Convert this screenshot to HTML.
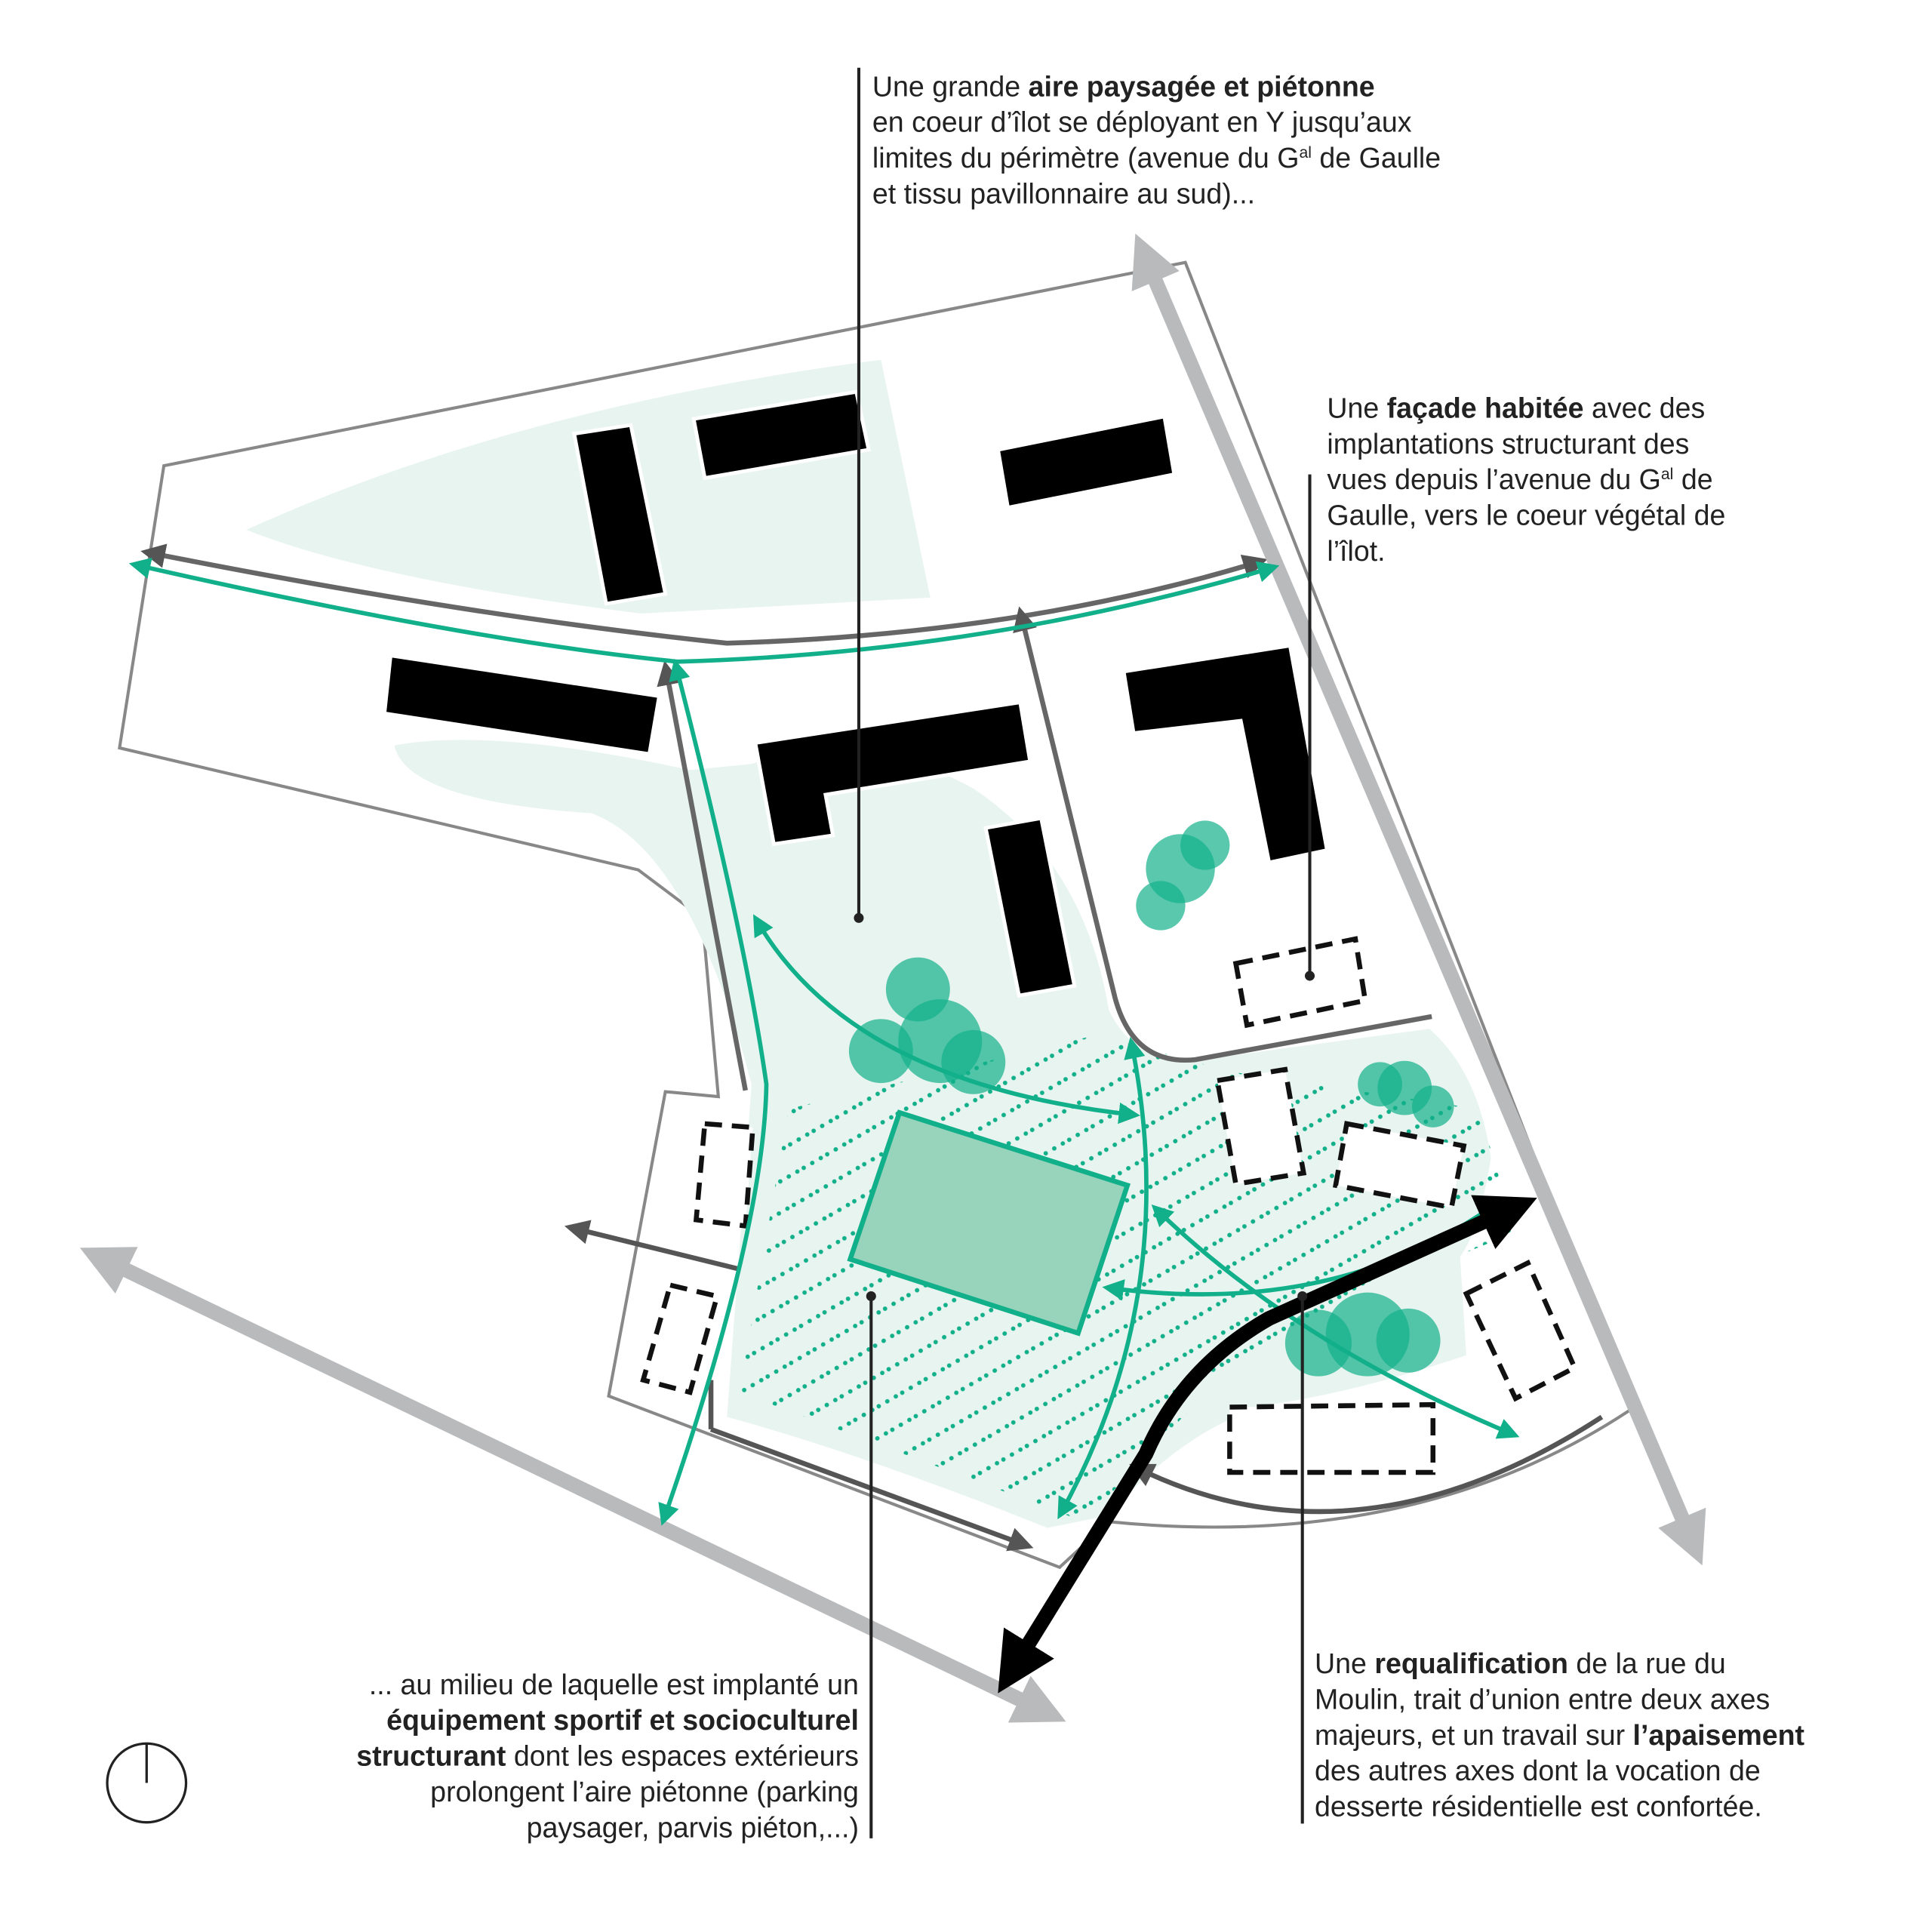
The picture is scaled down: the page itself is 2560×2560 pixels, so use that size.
<!DOCTYPE html>
<html><head><meta charset="utf-8"><style>
html,body{margin:0;padding:0;background:#fff}
svg{display:block}
text{font-family:"Liberation Sans",sans-serif;font-size:23px;fill:#222}
.b{font-weight:bold}
</style></head><body>
<svg width="2560" height="2560" viewBox="0 0 1568 1568" xmlns="http://www.w3.org/2000/svg">
<defs>
<marker id="ag" viewBox="0 0 10 10" refX="8" refY="5" markerWidth="5" markerHeight="5" orient="auto-start-reverse"><path d="M0,0L10,5L0,10z" fill="#12b08a"/></marker>
<marker id="ad" viewBox="0 0 10 10" refX="8" refY="5" markerWidth="5" markerHeight="5" orient="auto-start-reverse"><path d="M0,0L10,5L0,10z" fill="#555"/></marker>
<marker id="ak" viewBox="0 0 10 10" refX="6" refY="5" markerWidth="4" markerHeight="4" orient="auto-start-reverse"><path d="M0,0L10,5L0,10z" fill="#000"/></marker>
<marker id="ay" viewBox="0 0 10 10" refX="6" refY="5" markerWidth="3.5" markerHeight="3.5" orient="auto-start-reverse"><path d="M0,0L10,5L0,10z" fill="#b9babc"/></marker>
<pattern id="dots" width="22" height="22" patternUnits="userSpaceOnUse" patternTransform="rotate(60)"><circle cx="3" cy="11" r="1.8" fill="#12b08a"/><circle cx="3" cy="3" r="1.8" fill="#12b08a"/><circle cx="3" cy="19" r="1.8" fill="#12b08a"/></pattern>
</defs>
<path d="M133,378 L962,213 L1325,1143 Q1150,1260 900,1235 L860,1272 L494,1133 L540,886 L583,890 L570,745 L518,706 L97,607 Z" fill="#fff" stroke="#888" stroke-width="2.5"/>
<path d="M200,430 Q420,330 715,292 L755,485 L520,498 Q300,470 200,430Z" fill="#e8f4ef"/>
<path d="M320,605 Q400,590 560,625 L610,620 Q700,590 790,640 Q880,700 900,820 Q920,860 960,862 L1160,835 Q1200,870 1210,940 Q1200,1000 1185,1020 L1190,1100 Q1100,1130 1030,1140 Q960,1160 900,1230 L850,1240 Q700,1180 590,1150 L610,880 Q560,690 480,660 Q330,650 320,605Z" fill="#e8f4ef"/>
<path d="M600,1130 L640,900 L890,840 L1000,870 L1200,900 L1230,1000 L1060,1070 L960,1150 L880,1235 Z" fill="url(#dots)"/>
<path d="M118,448 Q380,500 590,522 Q830,515 1025,455" fill="none" stroke="#666" stroke-width="4" marker-start="url(#ad)" marker-end="url(#ad)"/>
<path d="M540,540 L605,885" fill="none" stroke="#666" stroke-width="4" marker-start="url(#ad)"/>
<path d="M828,496 L905,810 Q920,865 970,860 L1162,825" fill="none" stroke="#666" stroke-width="4" marker-start="url(#ad)"/>
<path d="M577,1160 L835,1255" fill="none" stroke="#555" stroke-width="4" marker-end="url(#ad)"/>
<path d="M577,1160 L577,1120" fill="none" stroke="#555" stroke-width="4"/>
<path d="M1300,1150 Q1100,1280 920,1190" fill="none" stroke="#555" stroke-width="4" marker-end="url(#ad)"/>
<path d="M600,1030 L462,996" fill="none" stroke="#555" stroke-width="4" marker-end="url(#ad)"/>
<path d="M928,205 L1375,1255" stroke="#b9babc" stroke-width="12" marker-start="url(#ay)" marker-end="url(#ay)"/>
<path d="M80,1020 L850,1390" stroke="#b9babc" stroke-width="12" marker-start="url(#ay)" marker-end="url(#ay)"/>
<g fill="#000" stroke="#fff" stroke-width="3">
<polygon points="466,352 512,345 540,482 492,490"/>
<polygon points="563,340 695,318 705,365 572,388"/>
<polygon points="810,365 945,338 953,385 818,412"/>
<polygon points="317,532 535,565 527,612 312,579"/>
<polygon points="613,603 828,570 836,618 670,645 676,678 628,685"/>
<polygon points="800,672 845,664 872,800 827,808"/>
<polygon points="912,545 1047,524 1077,690 1030,700 1007,585 920,595"/>
</g>
<g fill="#fff" stroke="#111" stroke-width="4" stroke-dasharray="14,8">
<polygon points="572,912 611,915 605,995 565,990"/>
<polygon points="544,1043 582,1052 560,1130 522,1120"/>
<polygon points="1003,782 1100,762 1108,812 1012,832"/>
<polygon points="988,877 1043,868 1058,952 1003,961"/>
<polygon points="1093,912 1188,930 1178,980 1084,962"/>
<polygon points="1190,1050 1240,1025 1278,1110 1230,1135"/>
<polygon points="998,1142 1163,1140 1163,1195 998,1195"/>
</g>
<g fill="#12b08a" fill-opacity="0.7">
<circle cx="745" cy="803" r="26"/><circle cx="763" cy="845" r="34"/><circle cx="715" cy="853" r="26"/><circle cx="790" cy="862" r="26"/>
<circle cx="978" cy="686" r="20"/><circle cx="958" cy="705" r="28"/><circle cx="942" cy="735" r="20"/>
<circle cx="1120" cy="880" r="18"/><circle cx="1140" cy="883" r="22"/><circle cx="1163" cy="898" r="17"/>
<circle cx="1070" cy="1090" r="27"/><circle cx="1110" cy="1083" r="34"/><circle cx="1143" cy="1088" r="26"/>
</g>
<polygon points="730,903 915,962 875,1082 690,1022" fill="#98d4bb" stroke="#12b08a" stroke-width="4"/>
<g fill="none" stroke="#12b08a" stroke-width="3.5" marker-start="url(#ag)" marker-end="url(#ag)">
<path d="M108,458 Q380,520 550,537 Q800,530 1035,460"/>
<path d="M548,538 Q605,760 622,880 Q620,1000 538,1235"/>
<path d="M613,745 Q690,880 922,905"/>
<path d="M918,845 Q960,1050 860,1230"/>
<path d="M937,980 Q1050,1090 1230,1165"/>
<path d="M898,1045 Q1080,1070 1210,980" marker-end="none"/>
</g>
<path d="M1230,980 L1030,1070 Q960,1110 930,1180 L820,1358" fill="none" stroke="#000" stroke-width="12" marker-start="url(#ak)" marker-end="url(#ak)"/>
<g stroke="#222" stroke-width="2.5">
<line x1="697" y1="55" x2="697" y2="745"/>
<line x1="1063" y1="385" x2="1063" y2="792"/>
<line x1="707" y1="1052" x2="707" y2="1492"/>
<line x1="1057" y1="1052" x2="1057" y2="1480"/>
</g>
<g fill="#222"><circle cx="697" cy="745" r="4"/><circle cx="1063" cy="792" r="4"/><circle cx="707" cy="1052" r="4"/><circle cx="1057" cy="1052" r="4"/></g>
<circle cx="119" cy="1447" r="32" fill="none" stroke="#222" stroke-width="2"/>
<line x1="119" y1="1415" x2="119" y2="1447" stroke="#222" stroke-width="2"/>
<text x="708" y="78">Une grande <tspan class="b">aire paysagée et piétonne</tspan></text>
<text x="708" y="107">en coeur d’îlot se déployant en Y jusqu’aux</text>
<text x="708" y="136">limites du périmètre (avenue du G<tspan font-size="13" dy="-8">al</tspan><tspan dy="8"> de Gaulle</tspan></text>
<text x="708" y="165">et tissu pavillonnaire au sud)...</text>
<text x="1077" y="339">Une <tspan class="b">façade habitée</tspan> avec des</text>
<text x="1077" y="368">implantations structurant des</text>
<text x="1077" y="397">vues depuis l’avenue du G<tspan font-size="13" dy="-8">al</tspan><tspan dy="8"> de</tspan></text>
<text x="1077" y="426">Gaulle, vers le coeur végétal de</text>
<text x="1077" y="455">l’îlot.</text>
<g text-anchor="end">
<text x="697" y="1375">... au milieu de laquelle est implanté un</text>
<text x="697" y="1404" class="b">équipement sportif et socioculturel</text>
<text x="697" y="1433"><tspan class="b">structurant</tspan> dont les espaces extérieurs</text>
<text x="697" y="1462">prolongent l’aire piétonne (parking</text>
<text x="697" y="1491">paysager, parvis piéton,...)</text>
</g>
<text x="1067" y="1358">Une <tspan class="b">requalification</tspan> de la rue du</text>
<text x="1067" y="1387">Moulin, trait d’union entre deux axes</text>
<text x="1067" y="1416">majeurs, et un travail sur <tspan class="b">l’apaisement</tspan></text>
<text x="1067" y="1445">des autres axes dont la vocation de</text>
<text x="1067" y="1474">desserte résidentielle est confortée.</text>
</svg>
</body></html>
